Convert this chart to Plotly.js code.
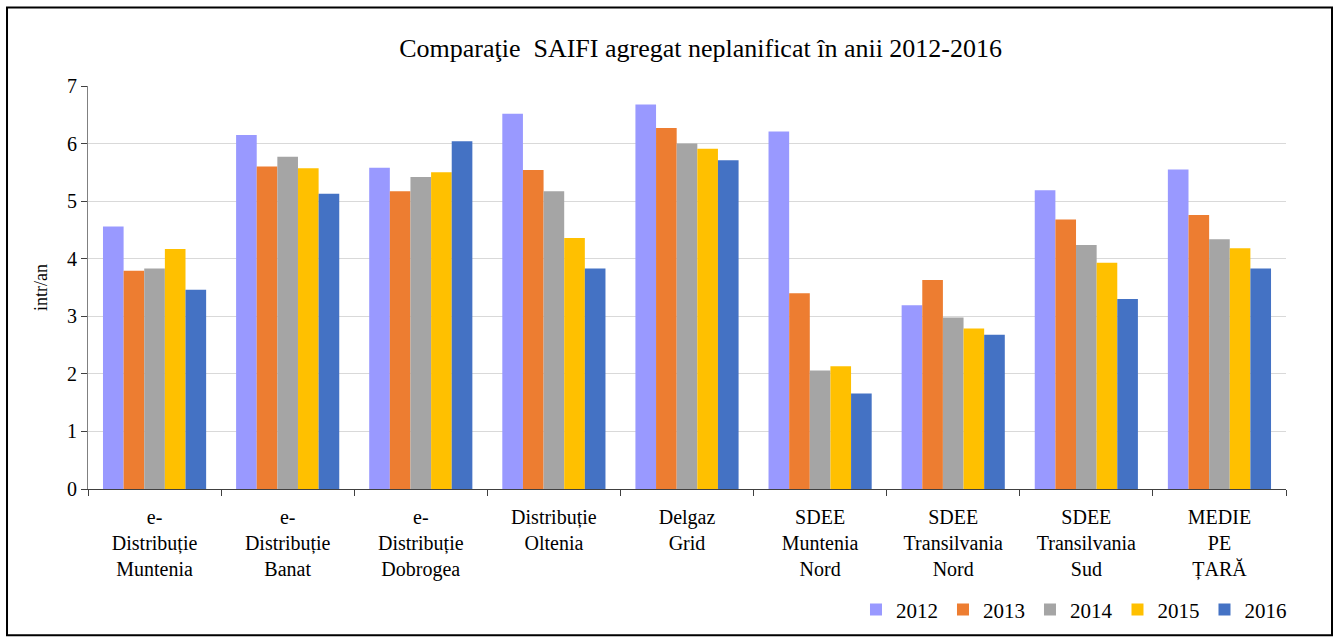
<!DOCTYPE html>
<html>
<head>
<meta charset="utf-8">
<script src="https://cdn.plot.ly/plotly-3.0.1.min.js"></script>
<style>html,body{margin:0;padding:0;background:#fff;}#chart{width:1337px;height:642px;}</style>
</head>
<body>
<div id="chart"></div>
<script>
const categories = [
  "e-<br>Distribuție<br>Muntenia",
  "e-<br>Distribuție<br>Banat",
  "e-<br>Distribuție<br>Dobrogea",
  "Distribuție<br>Oltenia",
  "Delgaz<br>Grid",
  "SDEE<br>Muntenia<br>Nord",
  "SDEE<br>Transilvania<br>Nord",
  "SDEE<br>Transilvania<br>Sud",
  "MEDIE<br>PE<br>ȚARĂ"
];
const years = ["2012", "2013", "2014", "2015", "2016"];
const v2012 = [4.56, 6.15, 5.58, 6.52, 6.68, 6.21, 3.19, 5.19, 5.55];
const v2013 = [3.79, 5.60, 5.17, 5.54, 6.27, 3.40, 3.63, 4.68, 4.76];
const v2014 = [3.83, 5.77, 5.42, 5.17, 6.00, 2.06, 2.98, 4.24, 4.34];
const v2015 = [4.17, 5.57, 5.50, 4.36, 5.91, 2.13, 2.79, 3.93, 4.18];
const v2016 = [3.46, 5.13, 6.04, 3.83, 5.71, 1.66, 2.68, 3.30, 3.83];
const colors = ["#9999FF", "#ED7D31", "#A5A5A5", "#FFC000", "#4472C4"];
const series = [v2012, v2013, v2014, v2015, v2016];

const serif = "Liberation Serif, Times New Roman, serif";
const traces = series.map((vals, i) => ({
  type: "bar",
  name: years[i],
  x: categories,
  y: vals,
  marker: {color: colors[i]},
  hoverinfo: "y"
}));

const layout = {
  width: 1337, height: 642,
  margin: {l: 88, r: 51, t: 86, b: 151},
  paper_bgcolor: "#fff", plot_bgcolor: "#fff",
  barmode: "group", bargap: 0.225, bargroupgap: 0,
  title: {text: "Comparaţie  SAIFI agregat neplanificat în anii 2012-2016",
          font: {family: serif, size: 26, color: "#000"},
          x: 0.524, xanchor: "center", y: 0.925, yanchor: "middle"},
  font: {family: serif, color: "#000"},
  xaxis: {
    type: "category",
    tickson: "boundaries",
    ticks: "outside", ticklen: 6, tickcolor: "#404040",
    showline: true, linecolor: "#404040", linewidth: 1,
    tickfont: {family: serif, size: 20, color: "#000"},
    ticklabelstandoff: 10,
    showgrid: false
  },
  yaxis: {
    range: [0, 7], dtick: 1,
    ticks: "outside", ticklen: 6, tickcolor: "#404040",
    showline: true, linecolor: "#808080", linewidth: 1,
    gridcolor: "#D9D9D9", gridwidth: 1,
    zeroline: false,
    tickfont: {family: serif, size: 20, color: "#000"},
    title: {text: "intr/an", font: {family: serif, size: 18, color: "#000"}, standoff: 14}
  },
  legend: {
    orientation: "h", x: 1.005, xanchor: "right", y: -0.30, yanchor: "middle",
    font: {family: serif, size: 21, color: "#000"},
    itemwidth: 30, traceorder: "normal"
  },
  shapes: [{
    type: "rect", xref: "paper", yref: "paper",
    x0: -0.0676, x1: 1.0384, y0: -0.363, y1: 1.195,
    line: {color: "#000", width: 2}, fillcolor: "rgba(0,0,0,0)"
  }]
};

Plotly.newPlot("chart", traces, layout, {displayModeBar: false, staticPlot: true});
</script>
</body>
</html>
